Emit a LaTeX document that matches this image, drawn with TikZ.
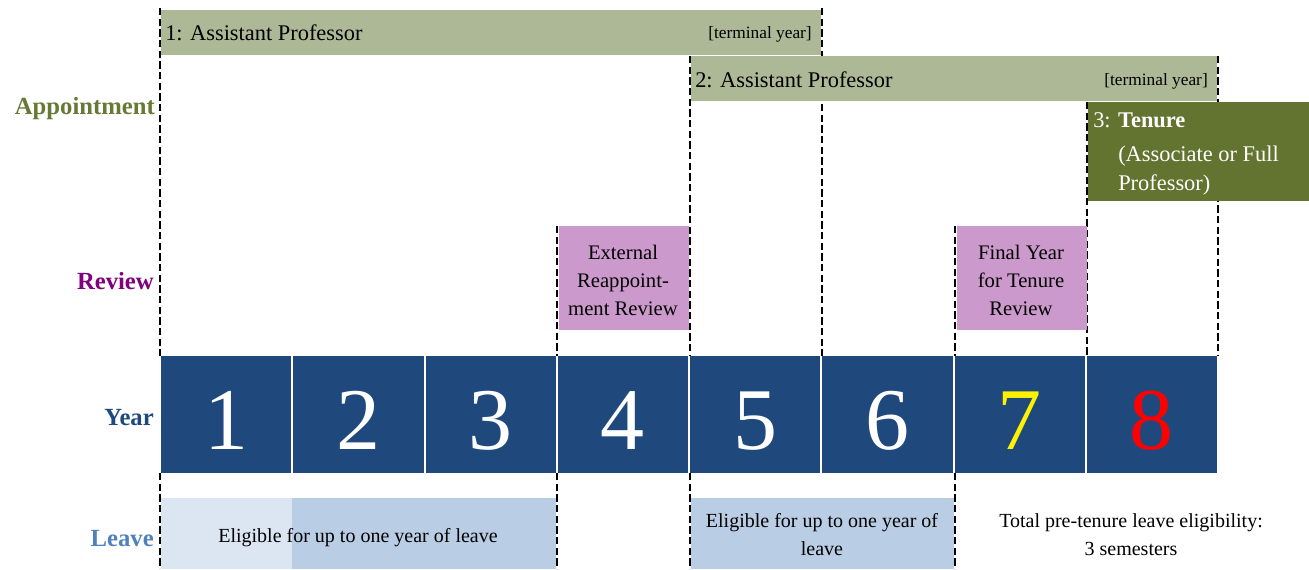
\documentclass[tikz,border=0pt]{standalone}
\usepackage{fontspec}
\setmainfont{Liberation Serif}
\definecolor{apptc}{HTML}{ADB897}
\definecolor{tenc}{HTML}{637430}
\definecolor{revc}{HTML}{CC99CC}
\definecolor{yearc}{HTML}{1F497D}
\definecolor{leavel}{HTML}{DCE6F2}
\definecolor{leavem}{HTML}{B9CDE5}
\definecolor{applab}{HTML}{667A35}
\definecolor{revlab}{HTML}{800080}
\definecolor{leavelab}{HTML}{4F81BD}
\tikzset{
  blk/.style={anchor=north west, inner sep=0pt, outer sep=0pt, draw=none},
  guide/.style={draw=black, line width=1.6pt, dash pattern=on 5.5pt off 2.5pt},
  rowlab/.style={font=\bfseries\fontsize{18.5}{22}\selectfont, anchor=base east, inner sep=0pt},
  txt/.style={font=\fontsize{16.8}{20}\selectfont, inner sep=0pt},
  small/.style={font=\fontsize{13}{15}\selectfont, inner sep=0pt, anchor=base east},
  revtxt/.style={font=\fontsize{15.5}{21}\selectfont, inner sep=0pt, align=center},
  leavetxt/.style={font=\fontsize{15}{21}\selectfont, inner sep=0pt, align=center},
  digit/.style={font=\fontsize{66}{70}\selectfont, inner sep=0pt, anchor=base},
}
\begin{document}
\begin{tikzpicture}[x=0.75pt,y=-0.75pt]
\useasboundingbox (0,0) rectangle (1309,569);

% guide coordinates
\coordinate (g1a) at (160,8);   \coordinate (g1b) at (160,356);
\coordinate (g1c) at (160,473); \coordinate (g1d) at (160,569);
\coordinate (g2a) at (822,8);   \coordinate (g2b) at (822,356);
\coordinate (g3a) at (690,56);  \coordinate (g3b) at (690,356);
\coordinate (g3c) at (690,473); \coordinate (g3d) at (690,569);
\coordinate (g4a) at (1218,56); \coordinate (g4b) at (1218,356);
\coordinate (g5a) at (1087,102);\coordinate (g5b) at (1087,356);
\coordinate (g6a) at (557,226); \coordinate (g6b) at (557,356);
\coordinate (g6c) at (557,473); \coordinate (g6d) at (557,569);
\coordinate (g7a) at (955,226); \coordinate (g7b) at (955,356);
\coordinate (g7c) at (955,473); \coordinate (g7d) at (955,569);

\draw[guide] (g1a) -- (g1b);
\draw[guide] (g1c) -- (g1d);
\draw[guide] (g2a) -- (g2b);
\draw[guide] (g3a) -- (g3b);
\draw[guide] (g3c) -- (g3d);
\draw[guide] (g4a) -- (g4b);
\draw[guide] (g5a) -- (g5b);
\draw[guide] (g6a) -- (g6b);
\draw[guide] (g6c) -- (g6d);
\draw[guide] (g7a) -- (g7b);
\draw[guide] (g7c) -- (g7d);

% appointment bars
\node[blk, fill=apptc, minimum width=495pt, minimum height=33.75pt] (a1) at (161,10) {};
\node[blk, fill=apptc, minimum width=394.5pt, minimum height=33.75pt] (a2) at (691,56) {};
\node[blk, fill=tenc, minimum width=165.75pt, minimum height=74.25pt] (a3) at (1088,102) {};

\node[txt, anchor=base west] (a1t) at (165,40) {1: Assistant Professor};
\node[small] (a1e) at (812,38) {[terminal year]};
\node[txt, anchor=base west] (a2t) at (695,87) {2: Assistant Professor};
\node[small] (a2e) at (1208,85) {[terminal year]};
\node[txt, anchor=base west, text=white] (a3t) at (1093,127) {3: \textbf{Tenure}};
\node[txt, anchor=base west, text=white] (a3u) at (1118,161) {(Associate or Full};
\node[txt, anchor=base west, text=white] (a3v) at (1118,190) {Professor)};

% review boxes
\node[blk, fill=revc, minimum width=97.5pt, minimum height=78pt] (r1) at (558.5,226) {};
\node[blk, fill=revc, minimum width=97.5pt, minimum height=78pt] (r2) at (956.5,226) {};
\node[revtxt] (r1t) at (623,280) {External\\Reappoint-\\ment Review};
\node[revtxt] (r2t) at (1021,280) {Final Year\\for Tenure\\Review};

% year boxes
\foreach \i/\c in {1/white,2/white,3/white,4/white,5/white,6/white,7/yellow,8/red}{
  \pgfmathsetmacro{\xl}{160+132.25*(\i-1)+1}
  \pgfmathsetmacro{\xc}{160+132.25*(\i-1)+66.125}
  \node[blk, fill=yearc, minimum width=97.7pt, minimum height=87.75pt] (y\i) at (\xl,356) {};
  \node[digit, text=\c] (d\i) at (\xc,449) {\i};
}

% leave boxes
\node[blk, fill=leavel, minimum width=98.25pt, minimum height=53.25pt] (l1) at (161,498) {};
\node[blk, fill=leavem, minimum width=198pt, minimum height=53.25pt] (l2) at (292,498) {};
\node[blk, fill=leavem, minimum width=197.25pt, minimum height=53.25pt] (l3) at (691,498) {};
\node[leavetxt] (l1t) at (358,538) {Eligible for up to one year of leave};
\node[leavetxt] (l3t) at (822,535) {Eligible for up to one year of\\leave};
\node[leavetxt] (l4t) at (1131,535) {Total pre-tenure leave eligibility:\\3 semesters};

% row labels
\node[rowlab, text=applab] (rl1) at (155,114) {Appointment};
\node[rowlab, text=revlab] (rl2) at (154,289) {Review};
\node[rowlab, text=yearc] (rl3) at (154,425) {Year};
\node[rowlab, text=leavelab] (rl4) at (154,546) {Leave};
\end{tikzpicture}
\end{document}
